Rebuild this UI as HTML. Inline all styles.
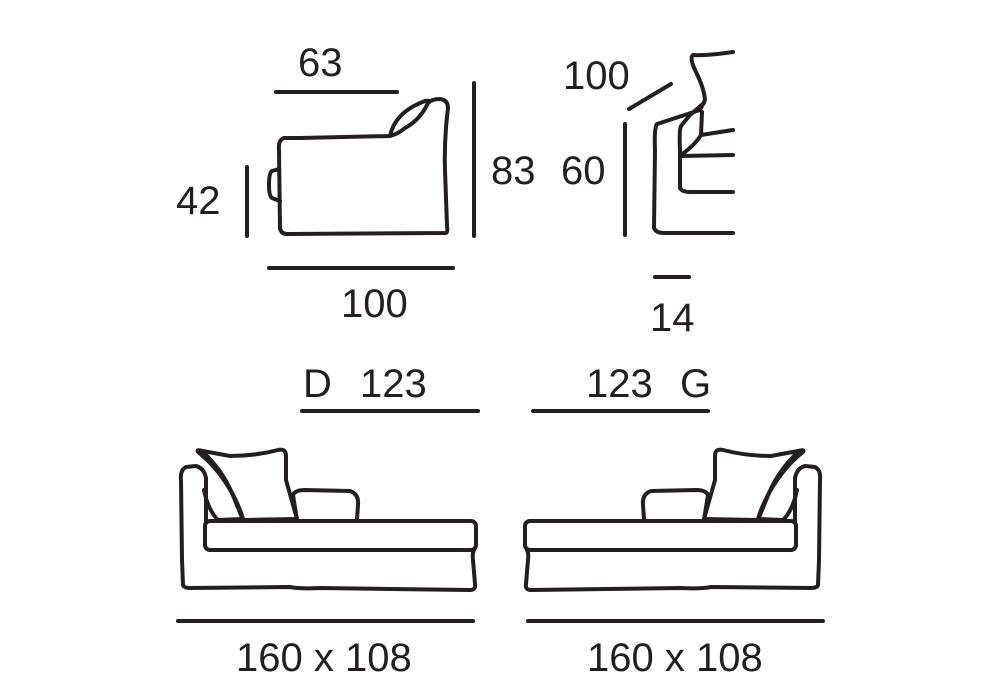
<!DOCTYPE html>
<html><head><meta charset="utf-8"><style>
html,body{margin:0;padding:0;background:#fff;}
svg{display:block}
text{font-family:"Liberation Sans",Arial,sans-serif;font-size:40px;fill:#231f20}
</style></head><body>
<svg width="1000" height="700" viewBox="0 0 1000 700" xmlns="http://www.w3.org/2000/svg">
<g stroke="#231f20" stroke-width="4" fill="none" stroke-linecap="round" stroke-linejoin="round">
<!-- top-left side view -->
<line x1="276" y1="92" x2="397" y2="92"/>
<line x1="247" y1="167" x2="247" y2="236"/>
<line x1="474" y1="83" x2="474" y2="236"/>
<line x1="269" y1="268" x2="453" y2="268"/>
<path d="M284,138 Q278,140 279,150 L280,228 Q281,234 287,234 L446,233 Q448,232 447,226 L445,170 Q444,140 448,108 Q448,100 440,99 Q432,99 428,103 Q420,120 405,128 Q398,134 390,136 L300,138 Z"/>
<path d="M390,136 Q395,112 425,101 Q432,100 428,103"/>
<path d="M279,169 L272,171 Q269,173 269,185 Q269,196 272,198 L280,201"/>
<!-- top-right -->
<line x1="629" y1="109" x2="671" y2="84"/>
<line x1="625" y1="124" x2="625" y2="235"/>
<line x1="655" y1="277" x2="689" y2="277"/>
<path d="M733,52 Q705,56 693,55 Q689,58 696,72 Q704,88 705,100 L700,110 L657,124 Q654,128 655,150 L654,228 Q656,233 664,233 L733,233"/>
<path d="M704,103 L690,115 L681,126 Q679,130 680,150 L680,188 Q682,192 690,192 L733,192"/>
<path d="M681,156 L733,155"/>
<path d="M681,155 Q695,145 701,135 L733,130"/>
<path d="M701,135 L702,112"/>
<text x="0" y="0" stroke="none"></text>
</g>
<g id="sofaL" stroke="#231f20" stroke-width="4" fill="none" stroke-linecap="round" stroke-linejoin="round">
<line x1="178" y1="621" x2="473" y2="621"/>
<path d="M206,522 L206,478 Q204,468 196,466 L186,467 Q180,470 181,480 L182,560 L183,585 Q184,588 190,588 L290,587 Q300,589 320,588 L470,590 Q476,590 475,584 L473,560 Q472,552 475,548"/>
<rect x="205" y="521" width="271" height="29" rx="5"/>
<path d="M297,520 L293,495 Q295,490 305,490 L350,491 Q359,494 358,505 L357,519"/>
<path d="M243,520 L232,493 Q218,468 198,452 Q196,449 203,451 L230,456 Q255,456 278,450 Q286,448 286,456 L286,480 L297,519 Z"/>
<path d="M203,452 Q222,470 232,493 Q240,508 243,519 L218,520 Q208,510 204,490"/>
</g>
<use href="#sofaL" transform="translate(1001,0) scale(-1,1)"/>
<g stroke="#231f20" stroke-width="4" stroke-linecap="round">
<line x1="302" y1="411" x2="478" y2="411"/>
<line x1="533" y1="411" x2="708" y2="411"/>
</g>
<text x="298" y="76">63</text>
<text x="176" y="214">42</text>
<text x="491" y="184">83</text>
<text x="341" y="317">100</text>
<text x="563" y="89">100</text>
<text x="561" y="184">60</text>
<text x="650" y="331">14</text>
<text x="303" y="397">D</text>
<text x="360" y="397">123</text>
<text x="586" y="397">123</text>
<text x="680" y="397">G</text>
<text x="236" y="671">160 x 108</text>
<text x="587" y="671">160 x 108</text>
</svg>
</body></html>
